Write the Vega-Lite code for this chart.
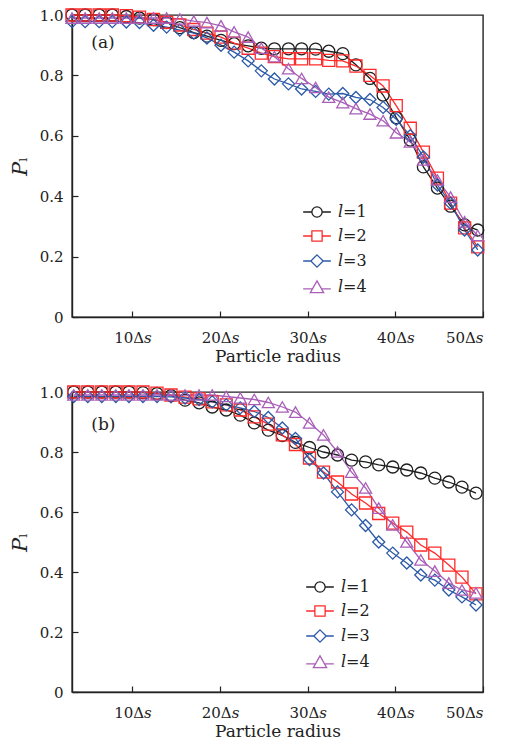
{
  "$schema": "https://vega.github.io/schema/vega-lite/v6.json",
  "padding": {"left": 8, "top": 5, "right": 5, "bottom": 2},
  "datasets": {
    "a": [
      {"x": 3.1, "l=1": 1.0, "l=2": 1.0, "l=3": 0.978, "l=4": 0.99},
      {"x": 4.6, "l=1": 1.0, "l=2": 1.0, "l=3": 0.978, "l=4": 0.99},
      {"x": 6.2, "l=1": 1.0, "l=2": 1.0, "l=3": 0.978, "l=4": 0.99},
      {"x": 7.7, "l=1": 1.0, "l=2": 1.0, "l=3": 0.978, "l=4": 0.99},
      {"x": 9.3, "l=1": 0.995, "l=2": 0.998, "l=3": 0.977, "l=4": 0.99},
      {"x": 10.8, "l=1": 0.99, "l=2": 0.993, "l=3": 0.975, "l=4": 0.99},
      {"x": 12.4, "l=1": 0.985, "l=2": 0.985, "l=3": 0.966, "l=4": 0.99},
      {"x": 13.9, "l=1": 0.975, "l=2": 0.976, "l=3": 0.96, "l=4": 0.99},
      {"x": 15.4, "l=1": 0.958, "l=2": 0.967, "l=3": 0.95, "l=4": 0.987},
      {"x": 17.0, "l=1": 0.942, "l=2": 0.952, "l=3": 0.94, "l=4": 0.98},
      {"x": 18.5, "l=1": 0.93, "l=2": 0.94, "l=3": 0.924, "l=4": 0.975},
      {"x": 20.1, "l=1": 0.916, "l=2": 0.927, "l=3": 0.9, "l=4": 0.964},
      {"x": 21.6, "l=1": 0.905, "l=2": 0.907, "l=3": 0.877, "l=4": 0.944},
      {"x": 23.2, "l=1": 0.898, "l=2": 0.89, "l=3": 0.848, "l=4": 0.927},
      {"x": 24.7, "l=1": 0.89, "l=2": 0.874, "l=3": 0.815, "l=4": 0.89},
      {"x": 26.2, "l=1": 0.888, "l=2": 0.862, "l=3": 0.788, "l=4": 0.862},
      {"x": 27.8, "l=1": 0.888, "l=2": 0.855, "l=3": 0.772, "l=4": 0.822},
      {"x": 29.3, "l=1": 0.888, "l=2": 0.855, "l=3": 0.755, "l=4": 0.79},
      {"x": 30.9, "l=1": 0.887, "l=2": 0.855, "l=3": 0.747, "l=4": 0.76},
      {"x": 32.4, "l=1": 0.88, "l=2": 0.85, "l=3": 0.738, "l=4": 0.728},
      {"x": 34.0, "l=1": 0.872, "l=2": 0.848, "l=3": 0.74, "l=4": 0.71},
      {"x": 35.5, "l=1": 0.835, "l=2": 0.831, "l=3": 0.727, "l=4": 0.69},
      {"x": 37.1, "l=1": 0.79, "l=2": 0.8, "l=3": 0.72, "l=4": 0.672},
      {"x": 38.6, "l=1": 0.735, "l=2": 0.765, "l=3": 0.694, "l=4": 0.65},
      {"x": 40.1, "l=1": 0.66, "l=2": 0.7, "l=3": 0.655, "l=4": 0.61},
      {"x": 41.7, "l=1": 0.586, "l=2": 0.625, "l=3": 0.6, "l=4": 0.58},
      {"x": 43.2, "l=1": 0.497, "l=2": 0.546, "l=3": 0.53, "l=4": 0.52},
      {"x": 44.8, "l=1": 0.427, "l=2": 0.46, "l=3": 0.437, "l=4": 0.454},
      {"x": 46.3, "l=1": 0.367, "l=2": 0.377, "l=3": 0.377, "l=4": 0.397},
      {"x": 47.9, "l=1": 0.305, "l=2": 0.295, "l=3": 0.288, "l=4": 0.315},
      {"x": 49.4, "l=1": 0.288, "l=2": 0.232, "l=3": 0.222, "l=4": 0.27}
    ],
    "b": [
      {"x": 3.3, "l=1": 1.0, "l=2": 1.0, "l=3": 0.985, "l=4": 0.99},
      {"x": 4.9, "l=1": 1.0, "l=2": 1.0, "l=3": 0.985, "l=4": 0.99},
      {"x": 6.5, "l=1": 1.0, "l=2": 1.0, "l=3": 0.985, "l=4": 0.99},
      {"x": 8.1, "l=1": 1.0, "l=2": 1.0, "l=3": 0.985, "l=4": 0.99},
      {"x": 9.6, "l=1": 1.0, "l=2": 1.0, "l=3": 0.985, "l=4": 0.99},
      {"x": 11.2, "l=1": 0.998, "l=2": 1.0, "l=3": 0.985, "l=4": 0.99},
      {"x": 12.8, "l=1": 0.995, "l=2": 0.996, "l=3": 0.985, "l=4": 0.99},
      {"x": 14.4, "l=1": 0.988, "l=2": 0.99, "l=3": 0.984, "l=4": 0.99},
      {"x": 16.0, "l=1": 0.973, "l=2": 0.983, "l=3": 0.98, "l=4": 0.99},
      {"x": 17.6, "l=1": 0.964, "l=2": 0.977, "l=3": 0.975, "l=4": 0.99},
      {"x": 19.1, "l=1": 0.95, "l=2": 0.967, "l=3": 0.967, "l=4": 0.99},
      {"x": 20.7, "l=1": 0.94, "l=2": 0.957, "l=3": 0.957, "l=4": 0.985},
      {"x": 22.3, "l=1": 0.923, "l=2": 0.94, "l=3": 0.947, "l=4": 0.98},
      {"x": 23.9, "l=1": 0.897, "l=2": 0.917, "l=3": 0.935, "l=4": 0.975},
      {"x": 25.5, "l=1": 0.873, "l=2": 0.893, "l=3": 0.915, "l=4": 0.965},
      {"x": 27.1, "l=1": 0.855, "l=2": 0.857, "l=3": 0.88, "l=4": 0.95},
      {"x": 28.6, "l=1": 0.832, "l=2": 0.825, "l=3": 0.845, "l=4": 0.933},
      {"x": 30.2, "l=1": 0.815, "l=2": 0.78, "l=3": 0.775, "l=4": 0.897},
      {"x": 31.8, "l=1": 0.8, "l=2": 0.733, "l=3": 0.73, "l=4": 0.857},
      {"x": 33.4, "l=1": 0.79, "l=2": 0.7, "l=3": 0.667, "l=4": 0.8},
      {"x": 35.0, "l=1": 0.773, "l=2": 0.66, "l=3": 0.607, "l=4": 0.733},
      {"x": 36.6, "l=1": 0.767, "l=2": 0.63, "l=3": 0.555, "l=4": 0.68},
      {"x": 38.1, "l=1": 0.757, "l=2": 0.595, "l=3": 0.5, "l=4": 0.613},
      {"x": 39.7, "l=1": 0.75, "l=2": 0.563, "l=3": 0.463, "l=4": 0.557},
      {"x": 41.3, "l=1": 0.74, "l=2": 0.533, "l=3": 0.43, "l=4": 0.5},
      {"x": 42.9, "l=1": 0.73, "l=2": 0.49, "l=3": 0.39, "l=4": 0.44},
      {"x": 44.5, "l=1": 0.713, "l=2": 0.463, "l=3": 0.373, "l=4": 0.403},
      {"x": 46.1, "l=1": 0.7, "l=2": 0.423, "l=3": 0.34, "l=4": 0.363},
      {"x": 47.6, "l=1": 0.683, "l=2": 0.383, "l=3": 0.317, "l=4": 0.34},
      {"x": 49.2, "l=1": 0.663, "l=2": 0.327, "l=3": 0.29, "l=4": 0.33}
    ]
  },
  "config": {
    "font": "DejaVu Serif",
    "view": {"stroke": "#222", "strokeWidth": 1.4},
    "axis": {
      "grid": false,
      "domainColor": "#222",
      "domainWidth": 1.4,
      "tickColor": "#222",
      "tickSize": -6,
      "tickWidth": 1.2,
      "labelFont": "DejaVu Serif",
      "labelFontSize": 15,
      "labelColor": "#222",
      "titleFont": "DejaVu Serif",
      "titleFontWeight": "normal",
      "titleColor": "#222"
    },
    "legend": {
      "padding": 0,
      "labelFont": "DejaVu Serif",
      "labelFontSize": 16,
      "labelColor": "#222"
    },
    "concat": {"spacing": 17}
  },
  "vconcat": [
    {
      "width": 411,
      "height": 302,
      "resolve": {"scale": {"color": "independent", "shape": "independent"}},
      "layer": [
        {
          "data": {"name": "a"},
          "transform": [{"fold": ["l=1", "l=2", "l=3", "l=4"], "as": ["s", "y"]}],
          "mark": {"type": "line", "strokeWidth": 1.3, "clip": false},
          "encoding": {
            "x": {"field": "x", "type": "quantitative", "scale": {"domain": [3.1, 50], "nice": false, "zero": false},
              "axis": {"values": [10, 20, 30, 40, 50], "labelExpr": "datum.value + 'Δ𝑠'", "title": "Particle radius", "titleFontSize": 17, "labelPadding": 19, "titlePadding": 3}},
            "y": {"field": "y", "type": "quantitative", "scale": {"domain": [0, 1], "nice": false},
              "axis": {"values": [0, 0.2, 0.4, 0.6, 0.8, 1.0], "labelExpr": "datum.value == 0 ? '0' : format(datum.value, '.1f')", "title": "𝑃ₗ", "titleFontSize": 21, "labelPadding": 15, "titlePadding": 9}},
            "color": {"field": "s", "type": "nominal", "legend": null, "scale": {"domain": ["l=1", "l=2", "l=3", "l=4"], "range": ["#1e1e1e", "#ff2a2a", "#2c5aa8", "#a95fb8"]}}
          }
        },
        {
          "data": {"name": "a"},
          "transform": [{"fold": ["l=1", "l=2", "l=3", "l=4"], "as": ["s", "y"]}],
          "mark": {"type": "point", "filled": false, "size": 145, "strokeWidth": 1.3, "opacity": 1, "clip": false},
          "encoding": {
            "x": {"field": "x", "type": "quantitative"},
            "y": {"field": "y", "type": "quantitative"},
            "color": {"field": "s", "type": "nominal", "legend": null, "scale": {"domain": ["l=1", "l=2", "l=3", "l=4"], "range": ["#1e1e1e", "#ff2a2a", "#2c5aa8", "#a95fb8"]}},
            "shape": {"field": "s", "type": "nominal", "legend": null, "scale": {"domain": ["l=1", "l=2", "l=3", "l=4"], "range": ["circle", "square", "diamond", "triangle-up"]}}
          }
        },
        {
          "data": {"name": "a"},
          "transform": [{"fold": ["l=1", "l=2", "l=3", "l=4"], "as": ["s", "y"]}, {"filter": "datum.x > 1000"}],
          "mark": {"type": "point", "filled": false, "strokeWidth": 1.3, "opacity": 1, "clip": false},
          "encoding": {
            "x": {"field": "x", "type": "quantitative"},
            "y": {"field": "y", "type": "quantitative"},
            "color": {"field": "s", "type": "nominal", "scale": {"domain": ["l=1", "l=2", "l=3", "l=4"], "range": ["#1e1e1e", "#ff2a2a", "#2c5aa8", "#a95fb8"]},
              "legend": {
                "orient": "none", "legendX": 237, "legendY": 189, "title": null,
                "labelOffset": 13, "rowPadding": 8, "symbolSize": 105, "symbolStrokeWidth": 1.3,
                "labelExpr": "'𝑙' + slice(datum.label, 1)"
              }},
            "shape": {"field": "s", "type": "nominal",
              "scale": {"domain": ["l=1", "l=2", "l=3", "l=4"], "range": [
                "M-2.7,0H-1M1,0H2.7M1,0A1,1,0,1,1,-1,0A1,1,0,1,1,1,0",
                "M-2.7,0H-1M1,0H2.7M-1,-1H1V1H-1Z",
                "M-2.7,0H-1.2M1.2,0H2.7M0,-1.2L1.2,0L0,1.2L-1.2,0Z",
                "M-2.7,0.35H-0.88M0.88,0.35H2.7M0,-1.2L1.3,1.1L-1.3,1.1Z"]},
              "legend": {
                "orient": "none", "legendX": 237, "legendY": 189, "title": null,
                "labelOffset": 13, "rowPadding": 8, "symbolSize": 105, "symbolStrokeWidth": 1.3,
                "labelExpr": "'𝑙' + slice(datum.label, 1)"
              }}
          }
        },
        {
          "data": {"values": [{"t": "(a)"}]},
          "mark": {"type": "text", "fontSize": 17, "align": "left", "baseline": "middle", "color": "#222"},
          "encoding": {"x": {"datum": 5.3}, "y": {"datum": 0.907}, "text": {"field": "t"}}
        }
      ]
    },
    {
      "width": 411,
      "height": 300,
      "resolve": {"scale": {"color": "independent", "shape": "independent"}},
      "layer": [
        {
          "data": {"name": "b"},
          "transform": [{"fold": ["l=1", "l=2", "l=3", "l=4"], "as": ["s", "y"]}],
          "mark": {"type": "line", "strokeWidth": 1.3, "clip": false},
          "encoding": {
            "x": {"field": "x", "type": "quantitative", "scale": {"domain": [3.1, 50], "nice": false, "zero": false},
              "axis": {"values": [10, 20, 30, 40, 50], "labelExpr": "datum.value + 'Δ𝑠'", "title": "Particle radius", "titleFontSize": 17, "labelPadding": 19, "titlePadding": 3}},
            "y": {"field": "y", "type": "quantitative", "scale": {"domain": [0, 1], "nice": false},
              "axis": {"values": [0, 0.2, 0.4, 0.6, 0.8, 1.0], "labelExpr": "datum.value == 0 ? '0' : format(datum.value, '.1f')", "title": "𝑃ₗ", "titleFontSize": 21, "labelPadding": 15, "titlePadding": 9}},
            "color": {"field": "s", "type": "nominal", "legend": null, "scale": {"domain": ["l=1", "l=2", "l=3", "l=4"], "range": ["#1e1e1e", "#ff2a2a", "#2c5aa8", "#a95fb8"]}}
          }
        },
        {
          "data": {"name": "b"},
          "transform": [{"fold": ["l=1", "l=2", "l=3", "l=4"], "as": ["s", "y"]}],
          "mark": {"type": "point", "filled": false, "size": 145, "strokeWidth": 1.3, "opacity": 1, "clip": false},
          "encoding": {
            "x": {"field": "x", "type": "quantitative"},
            "y": {"field": "y", "type": "quantitative"},
            "color": {"field": "s", "type": "nominal", "legend": null, "scale": {"domain": ["l=1", "l=2", "l=3", "l=4"], "range": ["#1e1e1e", "#ff2a2a", "#2c5aa8", "#a95fb8"]}},
            "shape": {"field": "s", "type": "nominal", "legend": null, "scale": {"domain": ["l=1", "l=2", "l=3", "l=4"], "range": ["circle", "square", "diamond", "triangle-up"]}}
          }
        },
        {
          "data": {"name": "b"},
          "transform": [{"fold": ["l=1", "l=2", "l=3", "l=4"], "as": ["s", "y"]}, {"filter": "datum.x > 1000"}],
          "mark": {"type": "point", "filled": false, "strokeWidth": 1.3, "opacity": 1, "clip": false},
          "encoding": {
            "x": {"field": "x", "type": "quantitative"},
            "y": {"field": "y", "type": "quantitative"},
            "color": {"field": "s", "type": "nominal", "scale": {"domain": ["l=1", "l=2", "l=3", "l=4"], "range": ["#1e1e1e", "#ff2a2a", "#2c5aa8", "#a95fb8"]},
              "legend": {
                "orient": "none", "legendX": 240, "legendY": 187, "title": null,
                "labelOffset": 13, "rowPadding": 8, "symbolSize": 105, "symbolStrokeWidth": 1.3,
                "labelExpr": "'𝑙' + slice(datum.label, 1)"
              }},
            "shape": {"field": "s", "type": "nominal",
              "scale": {"domain": ["l=1", "l=2", "l=3", "l=4"], "range": [
                "M-2.7,0H-1M1,0H2.7M1,0A1,1,0,1,1,-1,0A1,1,0,1,1,1,0",
                "M-2.7,0H-1M1,0H2.7M-1,-1H1V1H-1Z",
                "M-2.7,0H-1.2M1.2,0H2.7M0,-1.2L1.2,0L0,1.2L-1.2,0Z",
                "M-2.7,0.35H-0.88M0.88,0.35H2.7M0,-1.2L1.3,1.1L-1.3,1.1Z"]},
              "legend": {
                "orient": "none", "legendX": 240, "legendY": 187, "title": null,
                "labelOffset": 13, "rowPadding": 8, "symbolSize": 105, "symbolStrokeWidth": 1.3,
                "labelExpr": "'𝑙' + slice(datum.label, 1)"
              }}
          }
        },
        {
          "data": {"values": [{"t": "(b)"}]},
          "mark": {"type": "text", "fontSize": 17, "align": "left", "baseline": "middle", "color": "#222"},
          "encoding": {"x": {"datum": 5.3}, "y": {"datum": 0.89}, "text": {"field": "t"}}
        }
      ]
    }
  ]
}
